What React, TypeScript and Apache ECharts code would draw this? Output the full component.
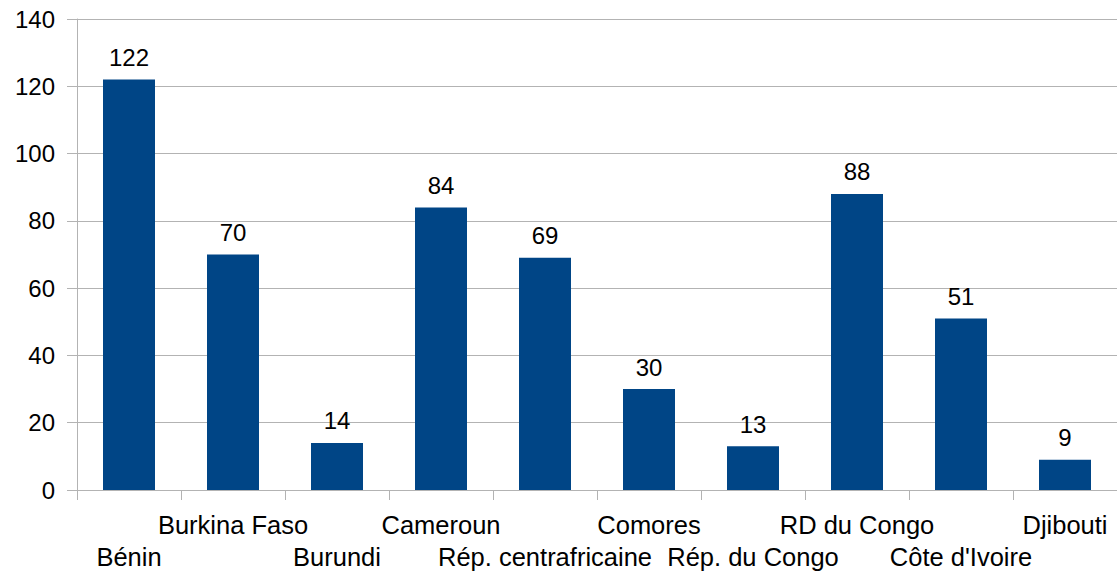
import React, { useEffect, useRef } from "react";
import * as echarts from "echarts";

const categories = [
  "Bénin",
  "Burkina Faso",
  "Burundi",
  "Cameroun",
  "Rép. centrafricaine",
  "Comores",
  "Rép. du Congo",
  "RD du Congo",
  "Côte d'Ivoire",
  "Djibouti",
];
const values = [122, 70, 14, 84, 69, 30, 13, 88, 51, 9];
const yTicks = { min: 0, max: 140, interval: 20 };

export default function App() {
  const ref = useRef<HTMLDivElement>(null);
  useEffect(() => {
    if (!ref.current) return;
    const chart = echarts.init(ref.current, undefined, { renderer: "svg" });
    const font = "'Liberation Sans', Arial, sans-serif";
    chart.setOption({
      animation: false,
      backgroundColor: "#ffffff",
      grid: { left: 77, right: -2, top: 19, bottom: 85, containLabel: false },
      xAxis: {
        type: "category",
        data: categories,
        axisLine: { show: true, lineStyle: { color: "#b3b3b3", width: 1 } },
        axisTick: { show: true, length: 10, interval: 0, lineStyle: { color: "#b3b3b3" } },
        axisLabel: {
          interval: 0,
          margin: 19,
          color: "#000",
          fontFamily: font,
          fontSize: 25.5,
          lineHeight: 32,
          formatter: (v: string, i: number) => (i % 2 === 0 ? "\n" + v : v),
        },
      },
      yAxis: {
        type: "value",
        min: yTicks.min,
        max: yTicks.max,
        interval: yTicks.interval,
        axisLine: { show: true, lineStyle: { color: "#b3b3b3", width: 1 } },
        axisTick: { show: true, length: 10, lineStyle: { color: "#b3b3b3" } },
        splitLine: { show: true, lineStyle: { color: "#b3b3b3", width: 1 } },
        axisLabel: { color: "#000", fontFamily: font, fontSize: 24, margin: 22 },
      },
      series: [
        {
          type: "bar",
          data: values,
          barWidth: "50%",
          itemStyle: { color: "#004586" },
          label: {
            show: true,
            position: "top",
            distance: 10,
            color: "#000",
            fontFamily: font,
            fontSize: 24,
          },
        },
      ],
    });
    return () => chart.dispose();
  }, []);
  return (
    <div
      ref={ref}
      style={{ position: "fixed", left: 0, top: 0, width: 1117, height: 575, background: "#fff" }}
    />
  );
}
